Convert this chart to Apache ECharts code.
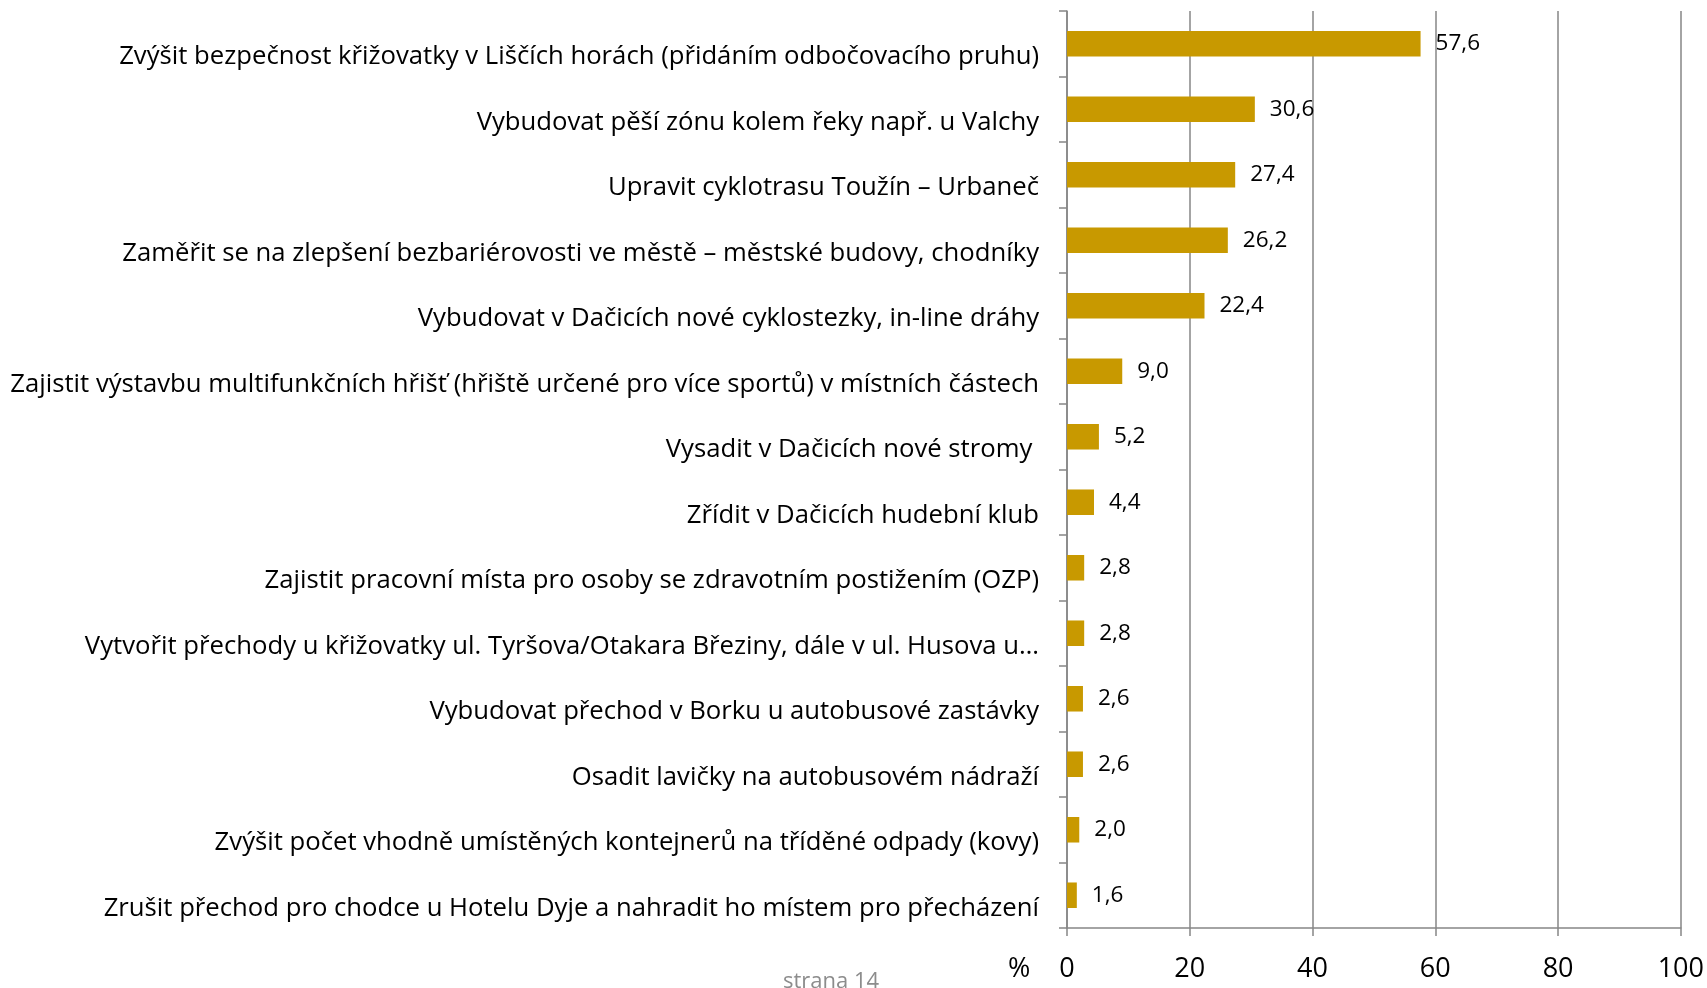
<!DOCTYPE html>
<html>
<head>
<meta charset="utf-8">
<script src="https://cdn.jsdelivr.net/npm/echarts@6/dist/echarts.min.js"></script>
<style>
  html, body { margin: 0; padding: 0; background: #ffffff; }
  #chart { width: 1707px; height: 988px; }
</style>
</head>
<body>
<div id="chart"></div>
<script>
  var categories = [
    'Zvýšit bezpečnost křižovatky v Liščích horách (přidáním odbočovacího pruhu)',
    'Vybudovat pěší zónu kolem řeky např. u Valchy',
    'Upravit cyklotrasu Toužín – Urbaneč',
    'Zaměřit se na zlepšení bezbariérovosti ve městě – městské budovy, chodníky',
    'Vybudovat v Dačicích nové cyklostezky, in-line dráhy',
    'Zajistit výstavbu multifunkčních hřišť (hřiště určené pro více sportů) v místních částech',
    'Vysadit v Dačicích nové stromy ',
    'Zřídit v Dačicích hudební klub',
    'Zajistit pracovní místa pro osoby se zdravotním postižením (OZP)',
    'Vytvořit přechody u křižovatky ul. Tyršova/Otakara Březiny, dále v ul. Husova u…',
    'Vybudovat přechod v Borku u autobusové zastávky',
    'Osadit lavičky na autobusovém nádraží',
    'Zvýšit počet vhodně umístěných kontejnerů na tříděné odpady (kovy)',
    'Zrušit přechod pro chodce u Hotelu Dyje a nahradit ho místem pro přecházení'
  ];
  var values = [57.6, 30.6, 27.4, 26.2, 22.4, 9.0, 5.2, 4.4, 2.8, 2.8, 2.6, 2.6, 2.0, 1.6];
  var xTicks = [0, 20, 40, 60, 80, 100];

  var chart = echarts.init(document.getElementById('chart'));
  var font = '"Open Sans", "Noto Sans", sans-serif';

  var option = {
    animation: false,
    grid: { left: 1067, right: 25, top: 11, bottom: 60, containLabel: false },
    xAxis: {
      type: 'value',
      min: xTicks[0],
      max: xTicks[xTicks.length - 1],
      interval: 20,
      axisLine: { show: true, lineStyle: { color: '#868686', width: 1.5 } },
      axisTick: { show: true, length: 8, lineStyle: { color: '#868686', width: 1.5 } },
      axisLabel: { color: '#000', fontSize: 27, fontFamily: font, margin: 28 },
      splitLine: { show: true, lineStyle: { color: '#868686', width: 1.5 } }
    },
    yAxis: {
      type: 'category',
      inverse: true,
      data: categories,
      axisLine: { show: true, lineStyle: { color: '#868686', width: 1.5 } },
      axisTick: { show: true, length: 8, lineStyle: { color: '#868686', width: 1.5 } },
      axisLabel: {
        color: '#000', fontSize: 25.7, fontFamily: font, margin: 28,
        verticalAlign: 'top', lineHeight: 26
      }
    },
    series: [{
      type: 'bar',
      data: values,
      barWidth: '39%',
      itemStyle: { color: '#C89900' },
      label: {
        show: true,
        position: 'right',
        distance: 15,
        color: '#000',
        fontSize: 22.5,
        fontFamily: font,
        formatter: function (p) { return p.value.toFixed(1).replace('.', ','); }
      }
    }],
    graphic: [
      { type: 'text', left: 1008, top: 956, style: { text: '%', fontSize: 27, fontFamily: font, fill: '#000' } },
      { type: 'text', x: 831, y: 982, style: { text: 'strana 14', fontSize: 22, fontFamily: font, fill: '#8c8c8c', align: 'center', verticalAlign: 'middle' } }
    ]
  };
  chart.setOption(option);
</script>
</body>
</html>
